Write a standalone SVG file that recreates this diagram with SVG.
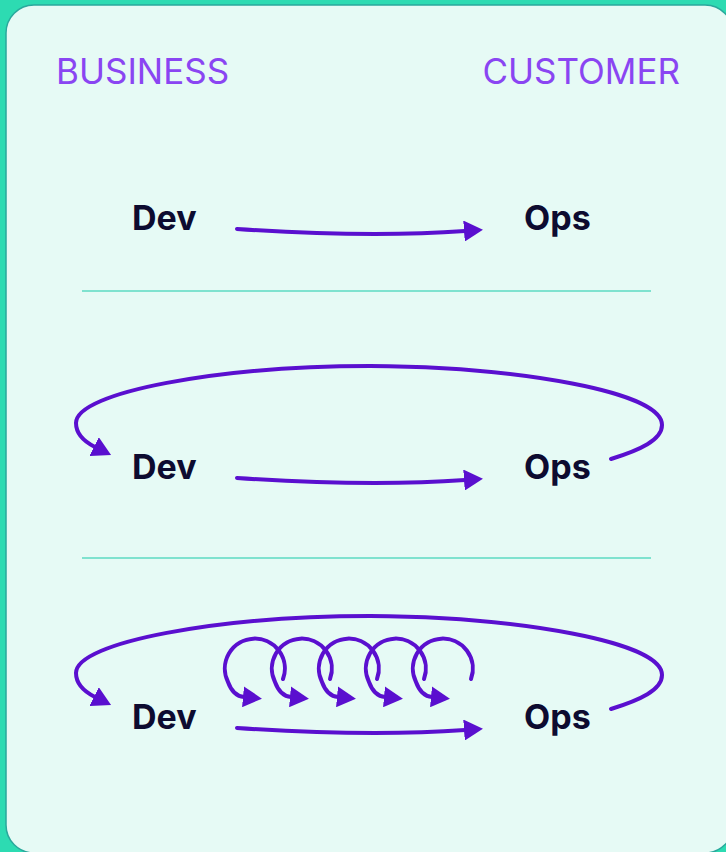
<svg xmlns="http://www.w3.org/2000/svg" width="726" height="852" viewBox="0 0 726 852">
  <defs>
    <marker id="ah" markerUnits="userSpaceOnUse" viewBox="0 0 19 21" refX="1" refY="10.5" markerWidth="19" markerHeight="21" orient="auto">
      <path d="M0,0 L19,10.5 L0,21 z" fill="#5a0fcf"/>
    </marker>
    <style>
      .title { font-family: Inter, "Noto Sans", "Liberation Sans", sans-serif; font-size: 35px; fill: #8a45f2; }
      .node { font-family: Inter, "Noto Sans", "Liberation Sans", sans-serif; font-size: 34px; font-weight: 700; fill: #0d0b30; }
      .flow { fill: none; stroke: #5a0fcf; stroke-width: 4; stroke-linecap: round; marker-end: url(#ah); }
      .sep { stroke: #7fe2cf; stroke-width: 2; }
    </style>
  </defs>
  <rect x="0" y="0" width="726" height="852" fill="#2ddbb2"/>
  <rect x="6" y="5" width="727" height="848" rx="28" fill="#e6faf5" stroke="#2aa89c" stroke-width="1.5"/>

  <g id="business"><text class="title" x="56" y="84">BUSINESS</text></g>
  <g id="customer"><text class="title" x="680" y="84" text-anchor="end">CUSTOMER</text></g>

  <g id="separators">
    <line class="sep" x1="82" y1="291" x2="651" y2="291"/>
    <line class="sep" x1="82" y1="558" x2="651" y2="558"/>
  </g>

  <g id="dev1"><text class="node" x="132" y="230">Dev</text></g>
  <g id="ops1"><text class="node" x="524" y="230">Ops</text></g>
  <g id="dev2"><text class="node" x="132" y="479">Dev</text></g>
  <g id="ops2"><text class="node" x="524" y="479">Ops</text></g>
  <g id="dev3"><text class="node" x="132" y="729">Dev</text></g>
  <g id="ops3"><text class="node" x="524" y="729">Ops</text></g>

  <g id="connectors">
    <path class="flow" d="M237,229 Q370,238 465,231"/>
    <path class="flow" d="M237,478 Q370,487 465,480"/>
    <path class="flow" d="M237,728 Q370,737 465,730"/>

    <path class="flow" d="M611,459 C640,450 662,440 662,425 C662,392 520,367 370,366 C220,366 76,392 76,423 C76,433 83,441 95,447"/>
    <path class="flow" d="M611,709 C640,700 662,690 662,675 C662,642 520,617 370,616 C220,616 76,642 76,673 C76,683 83,691 95,697"/>

    <path class="flow" d="M283,679 A30,30 0 1 0 228,682 Q233,696 244,697"/>
    <path class="flow" d="M330,679 A30,30 0 1 0 275,682 Q280,696 291,697"/>
    <path class="flow" d="M377,679 A30,30 0 1 0 322,682 Q327,696 338,697"/>
    <path class="flow" d="M424,679 A30,30 0 1 0 369,682 Q374,696 385,697"/>
    <path class="flow" d="M471,679 A30,30 0 1 0 416,682 Q421,696 432,697"/>
  </g>
</svg>
